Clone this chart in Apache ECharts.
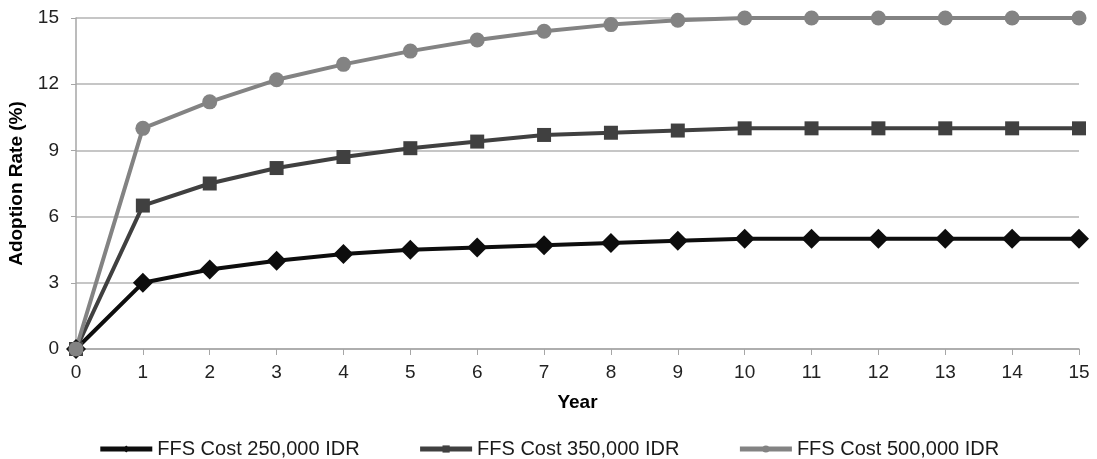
<!DOCTYPE html>
<html>
<head>
<meta charset="utf-8">
<script src="https://cdn.jsdelivr.net/npm/echarts@6/dist/echarts.min.js"></script>
<style>
  html, body { margin: 0; padding: 0; background: #fff; }
  #chart { width: 1097px; height: 459px; }
</style>
</head>
<body>
<div id="chart"></div>
<script>
// years on the x axis
const years = ['0', '1', '2', '3', '4', '5', '6', '7', '8', '9', '10', '11', '12', '13', '14', '15'];

// adoption rate (%) per scenario
const cost250 = [0, 3.0, 3.6, 4.0, 4.3, 4.5, 4.6, 4.7, 4.8, 4.9, 5, 5, 5, 5, 5, 5];
const cost350 = [0, 6.5, 7.5, 8.2, 8.7, 9.1, 9.4, 9.7, 9.8, 9.9, 10, 10, 10, 10, 10, 10];
const cost500 = [0, 10.0, 11.2, 12.2, 12.9, 13.5, 14.0, 14.4, 14.7, 14.9, 15, 15, 15, 15, 15, 15];

const seriesNames = ['FFS Cost 250,000 IDR', 'FFS Cost 350,000 IDR', 'FFS Cost 500,000 IDR'];

const chart = echarts.init(document.getElementById('chart'));

const font = '"Liberation Sans", Arial, sans-serif';
const axisGray = '#a6a6a6';

const makeSeries = (name, data, color, symbol, size) => ({
  name,
  type: 'line',
  data,
  symbol,
  symbolSize: size,
  color,
  lineStyle: { color, width: 4 },
  itemStyle: { color }
});

const option = {
  animation: false,
  grid: { left: 76, right: 18, top: 18, bottom: 110, outerBoundsMode: 'none' },
  legend: {
    top: 434,
    left: 'center',
    itemGap: 58,
    itemWidth: 52,
    itemHeight: 9,
    lineStyle: { width: 5 },
    textStyle: { fontFamily: font, fontSize: 20, color: '#1a1a1a' },
    data: seriesNames
  },
  xAxis: {
    type: 'category',
    data: years,
    boundaryGap: false,
    name: 'Year',
    nameLocation: 'middle',
    nameGap: 44,
    nameTextStyle: { fontFamily: font, fontSize: 19, fontWeight: 'bold', color: '#000' },
    axisLine: { lineStyle: { color: axisGray, width: 1.5 } },
    axisTick: { show: true, alignWithLabel: true, length: 6, lineStyle: { color: axisGray } },
    axisLabel: { fontFamily: font, fontSize: 19, color: '#222', margin: 14 },
    splitLine: { show: false }
  },
  yAxis: {
    type: 'value',
    min: 0,
    max: 15,
    interval: 3,
    name: 'Adoption Rate (%)',
    nameLocation: 'middle',
    nameGap: 50,
    nameRotate: 90,
    nameTextStyle: { fontFamily: font, fontSize: 19, fontWeight: 'bold', color: '#000' },
    axisLine: { show: true, lineStyle: { color: axisGray, width: 1.5 } },
    axisTick: { show: true, length: 5, lineStyle: { color: axisGray } },
    axisLabel: { fontFamily: font, fontSize: 19, color: '#222', margin: 17 },
    splitLine: { lineStyle: { color: '#b3b3b3', width: 1.5 } }
  },
  series: [
    makeSeries(seriesNames[0], cost250, '#0d0d0d', 'diamond', 20),
    makeSeries(seriesNames[1], cost350, '#404040', 'rect', 14),
    makeSeries(seriesNames[2], cost500, '#838383', 'circle', 15)
  ]
};

chart.setOption(option);
</script>
</body>
</html>
